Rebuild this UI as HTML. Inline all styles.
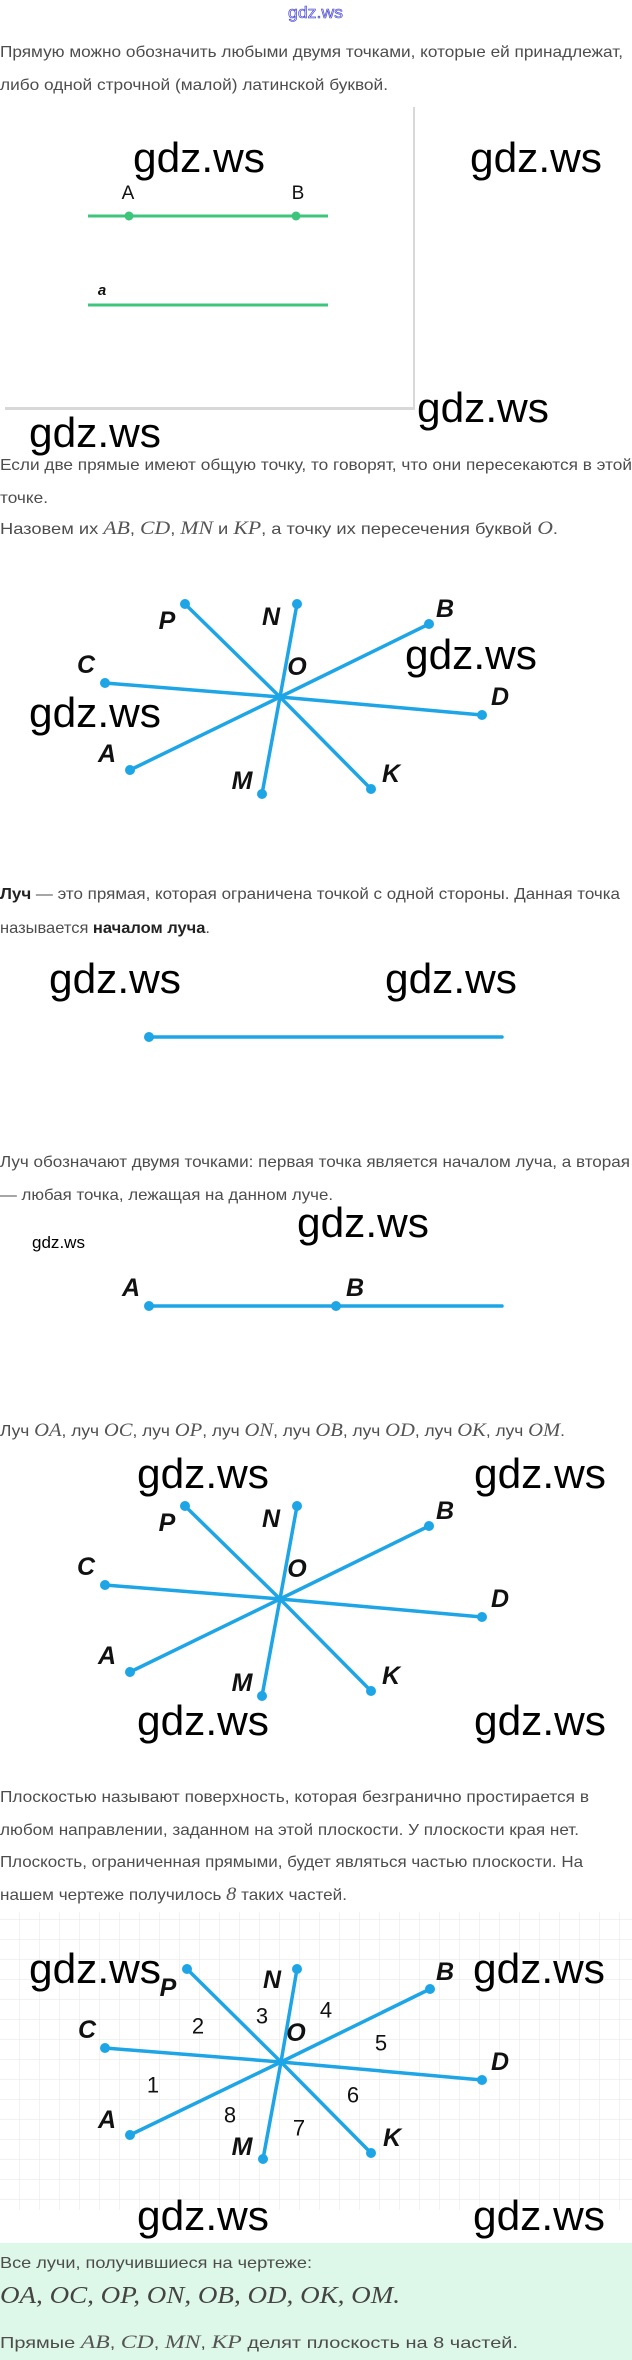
<!DOCTYPE html>
<html><head><meta charset="utf-8"><style>
html,body{margin:0;padding:0;background:#fff;}
svg{display:block;}
.t{font-family:"Liberation Sans",sans-serif;font-size:16px;fill:#4d4d4d;}
.m{font-family:"Liberation Serif",serif;font-style:italic;font-size:19px;fill:#555;}
.w{font-family:"Liberation Sans",sans-serif;font-size:42px;fill:#000;}
.l{font-family:"Liberation Sans Narrow","Liberation Sans",sans-serif;font-weight:bold;font-style:italic;font-size:25px;fill:#111;}
.n{font-family:"Liberation Sans",sans-serif;font-size:22px;fill:#111;}
.r{stroke:#1da5e6;stroke-width:3.5;stroke-linecap:round;}
.d{fill:#1da5e6;}
</style></head><body>
<svg width="632" height="2360" viewBox="0 0 632 2360" xmlns="http://www.w3.org/2000/svg">
<defs>
<pattern id="grid" width="20" height="20" patternUnits="userSpaceOnUse">
<path d="M20 0V20M0 20H20" fill="none" stroke="#e6e6e6" stroke-width="1"/>
</pattern>
<g id="star">
<line class="r" x1="0" y1="0" x2="-95" y2="-93"/>
<line class="r" x1="0" y1="0" x2="17" y2="-93"/>
<line class="r" x1="0" y1="0" x2="149" y2="-73"/>
<line class="r" x1="0" y1="0" x2="-175" y2="-14"/>
<line class="r" x1="0" y1="0" x2="202" y2="18"/>
<line class="r" x1="0" y1="0" x2="-150" y2="73"/>
<line class="r" x1="0" y1="0" x2="-18" y2="97"/>
<line class="r" x1="0" y1="0" x2="91" y2="92"/>
<circle class="d" cx="-95" cy="-93" r="5"/><circle class="d" cx="17" cy="-93" r="5"/>
<circle class="d" cx="149" cy="-73" r="5"/><circle class="d" cx="-175" cy="-14" r="5"/>
<circle class="d" cx="202" cy="18" r="5"/><circle class="d" cx="-150" cy="73" r="5"/>
<circle class="d" cx="-18" cy="97" r="5"/><circle class="d" cx="91" cy="92" r="5"/>
<g class="l" text-anchor="middle" dominant-baseline="central">
<text x="-113" y="-76">P</text><text x="-9" y="-80">N</text><text x="165" y="-88">B</text>
<text x="17" y="-30">O</text><text x="-194" y="-32">C</text><text x="220" y="0">D</text>
<text x="-173" y="57">A</text><text x="-38" y="84">M</text><text x="111" y="77">K</text>
</g>
</g>
</defs>

<!-- header -->
<text x="288" y="18" font-family="Liberation Sans,sans-serif" font-size="17" fill="#d8d8f8" stroke="#3a3ad0" stroke-width="0.6" textLength="55" lengthAdjust="spacingAndGlyphs">gdz.ws</text>

<text class="t" x="0" y="57" textLength="623" lengthAdjust="spacingAndGlyphs">Прямую можно обозначить любыми двумя точками, которые ей принадлежат,</text>
<text class="t" x="0" y="90" textLength="388" lengthAdjust="spacingAndGlyphs">либо одной строчной (малой) латинской буквой.</text>

<!-- box -->
<rect x="5" y="107" width="410" height="303" fill="#d8d8d8"/>
<rect x="3" y="105" width="410" height="302" fill="#fff"/>
<text class="w" x="133" y="172" textLength="132" lengthAdjust="spacingAndGlyphs">gdz.ws</text>
<text class="w" x="470" y="172" textLength="132" lengthAdjust="spacingAndGlyphs">gdz.ws</text>
<text x="128" y="199" text-anchor="middle" font-family="Liberation Sans Narrow,Liberation Sans,sans-serif" font-size="19" fill="#111">A</text>
<text x="298" y="199" text-anchor="middle" font-family="Liberation Sans Narrow,Liberation Sans,sans-serif" font-size="19" fill="#111">B</text>
<line x1="88" y1="216" x2="328" y2="216" stroke="#3ec57c" stroke-width="3"/>
<circle cx="129" cy="216" r="4.5" fill="#3ec57c"/><circle cx="296" cy="216" r="4.5" fill="#3ec57c"/>
<text x="102" y="295" text-anchor="middle" font-family="Liberation Sans,sans-serif" font-weight="bold" font-style="italic" font-size="15" fill="#111">a</text>
<line x1="88" y1="305" x2="328" y2="305" stroke="#3ec57c" stroke-width="3"/>
<text class="w" x="417" y="422" textLength="132" lengthAdjust="spacingAndGlyphs">gdz.ws</text>
<text class="w" x="29" y="447" textLength="132" lengthAdjust="spacingAndGlyphs">gdz.ws</text>

<text class="t" x="0" y="470" textLength="632" lengthAdjust="spacingAndGlyphs">Если две прямые имеют общую точку, то говорят, что они пересекаются в этой</text>
<text class="t" x="0" y="503" textLength="48" lengthAdjust="spacingAndGlyphs">точке.</text>
<text class="t" x="0" y="534" textLength="558" lengthAdjust="spacingAndGlyphs">Назовем их <tspan class="m">AB</tspan>, <tspan class="m">CD</tspan>, <tspan class="m">MN</tspan> и <tspan class="m">KP</tspan>, а точку их пересечения буквой <tspan class="m">O</tspan>.</text>

<!-- star 1 -->
<use href="#star" x="280" y="697"/>
<text class="w" x="405" y="669" textLength="132" lengthAdjust="spacingAndGlyphs">gdz.ws</text>
<text class="w" x="29" y="727" textLength="132" lengthAdjust="spacingAndGlyphs">gdz.ws</text>

<text class="t" x="0" y="899" textLength="620" lengthAdjust="spacingAndGlyphs"><tspan font-weight="bold" fill="#222">Луч</tspan> — это прямая, которая ограничена точкой с одной стороны. Данная точка</text>
<text class="t" x="0" y="933" textLength="210" lengthAdjust="spacingAndGlyphs">называется <tspan font-weight="bold" fill="#222">началом луча</tspan>.</text>
<text class="w" x="49" y="993" textLength="132" lengthAdjust="spacingAndGlyphs">gdz.ws</text>
<text class="w" x="385" y="993" textLength="132" lengthAdjust="spacingAndGlyphs">gdz.ws</text>
<line class="r" x1="149" y1="1037" x2="502" y2="1037"/>
<circle class="d" cx="149" cy="1037" r="5"/>

<text class="t" x="0" y="1167" textLength="630" lengthAdjust="spacingAndGlyphs">Луч обозначают двумя точками: первая точка является началом луча, а вторая</text>
<text class="t" x="0" y="1200" textLength="333" lengthAdjust="spacingAndGlyphs">— любая точка, лежащая на данном луче.</text>
<text x="32" y="1248" font-family="Liberation Sans,sans-serif" font-size="17" fill="#000" textLength="53" lengthAdjust="spacingAndGlyphs">gdz.ws</text>
<text class="w" x="297" y="1237" textLength="132" lengthAdjust="spacingAndGlyphs">gdz.ws</text>
<text class="l" x="131" y="1288" text-anchor="middle" dominant-baseline="central">A</text>
<text class="l" x="355" y="1288" text-anchor="middle" dominant-baseline="central">B</text>
<line class="r" x1="149" y1="1306" x2="502" y2="1306"/>
<circle class="d" cx="149" cy="1306" r="5"/><circle class="d" cx="336" cy="1306" r="5"/>

<text class="t" x="0" y="1436" textLength="565" lengthAdjust="spacingAndGlyphs">Луч <tspan class="m">OA</tspan>, луч <tspan class="m">OC</tspan>, луч <tspan class="m">OP</tspan>, луч <tspan class="m">ON</tspan>, луч <tspan class="m">OB</tspan>, луч <tspan class="m">OD</tspan>, луч <tspan class="m">OK</tspan>, луч <tspan class="m">OM</tspan>.</text>
<text class="w" x="137" y="1488" textLength="132" lengthAdjust="spacingAndGlyphs">gdz.ws</text>
<text class="w" x="474" y="1488" textLength="132" lengthAdjust="spacingAndGlyphs">gdz.ws</text>
<use href="#star" x="280" y="1599"/>
<text class="w" x="137" y="1735" textLength="132" lengthAdjust="spacingAndGlyphs">gdz.ws</text>
<text class="w" x="474" y="1735" textLength="132" lengthAdjust="spacingAndGlyphs">gdz.ws</text>

<text class="t" x="0" y="1802" textLength="589" lengthAdjust="spacingAndGlyphs">Плоскостью называют поверхность, которая безгранично простирается в</text>
<text class="t" x="0" y="1835" textLength="579" lengthAdjust="spacingAndGlyphs">любом направлении, заданном на этой плоскости. У плоскости края нет.</text>
<text class="t" x="0" y="1867" textLength="583" lengthAdjust="spacingAndGlyphs">Плоскость, ограниченная прямыми, будет являться частью плоскости. На</text>
<text class="t" x="0" y="1900" textLength="347" lengthAdjust="spacingAndGlyphs">нашем чертеже получилось <tspan class="m">8</tspan> таких частей.</text>

<!-- grid star -->
<rect x="0" y="1912" width="632" height="298" fill="url(#grid)"/>
<g transform="translate(281,2062)">
<line class="r" x1="0" y1="0" x2="-94" y2="-93"/>
<line class="r" x1="0" y1="0" x2="16" y2="-93"/>
<line class="r" x1="0" y1="0" x2="149" y2="-73"/>
<line class="r" x1="0" y1="0" x2="-176" y2="-14"/>
<line class="r" x1="0" y1="0" x2="201" y2="18"/>
<line class="r" x1="0" y1="0" x2="-151" y2="73"/>
<line class="r" x1="0" y1="0" x2="-18" y2="97"/>
<line class="r" x1="0" y1="0" x2="90" y2="91"/>
<circle class="d" cx="-94" cy="-93" r="5"/><circle class="d" cx="16" cy="-93" r="5"/>
<circle class="d" cx="149" cy="-73" r="5"/><circle class="d" cx="-176" cy="-14" r="5"/>
<circle class="d" cx="201" cy="18" r="5"/><circle class="d" cx="-151" cy="73" r="5"/>
<circle class="d" cx="-18" cy="97" r="5"/><circle class="d" cx="90" cy="91" r="5"/>
</g>
<g class="l" text-anchor="middle" dominant-baseline="central">
<text x="168" y="1988">P</text><text x="272" y="1980">N</text><text x="445" y="1972">B</text>
<text x="296" y="2033">O</text><text x="87" y="2030">C</text><text x="500" y="2062">D</text>
<text x="107" y="2120">A</text><text x="242" y="2147">M</text><text x="392" y="2138">K</text>
</g>
<g class="n" text-anchor="middle" dominant-baseline="central">
<text x="153" y="2085">1</text><text x="198" y="2026">2</text><text x="262" y="2016">3</text><text x="326" y="2010">4</text>
<text x="381" y="2043">5</text><text x="353" y="2095">6</text><text x="299" y="2128">7</text><text x="230" y="2115">8</text>
</g>
<text class="w" x="29" y="1983" textLength="132" lengthAdjust="spacingAndGlyphs">gdz.ws</text>
<text class="w" x="473" y="1983" textLength="132" lengthAdjust="spacingAndGlyphs">gdz.ws</text>
<text class="w" x="137" y="2230" textLength="132" lengthAdjust="spacingAndGlyphs">gdz.ws</text>
<text class="w" x="473" y="2230" textLength="132" lengthAdjust="spacingAndGlyphs">gdz.ws</text>

<!-- green box -->
<rect x="0" y="2243" width="632" height="117" fill="#ddf8e8"/>
<text class="t" x="0" y="2268" textLength="312" lengthAdjust="spacingAndGlyphs" fill="#444">Все лучи, получившиеся на чертеже:</text>
<text x="0" y="2303" font-family="Liberation Serif,serif" font-style="italic" font-size="24" fill="#444" textLength="400" lengthAdjust="spacingAndGlyphs">OA, OC, OP, ON, OB, OD, OK, OM.</text>
<text class="t" x="0" y="2348" textLength="518" lengthAdjust="spacingAndGlyphs" fill="#444">Прямые <tspan class="m" font-size="22">AB</tspan>, <tspan class="m" font-size="22">CD</tspan>, <tspan class="m" font-size="22">MN</tspan>, <tspan class="m" font-size="22">KP</tspan> делят плоскость на 8 частей.</text>
</svg>
</body></html>
